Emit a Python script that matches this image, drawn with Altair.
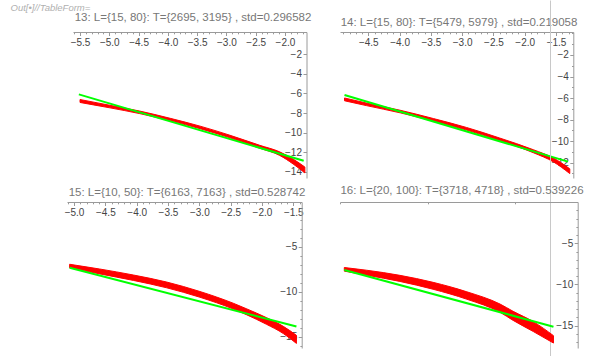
import altair as alt
import pandas as pd

# ---------------- data ----------------
# Panel 13
p13_x = [-5.5, -4.99, -4.48, -3.96, -3.45, -2.94, -2.43, -2.09, -1.86, -1.66]
p13_red_top = [-6.62, -7.21, -7.80, -8.54, -9.34, -10.27, -11.30, -11.97, -12.71, -13.52]
p13_red_bottom = [-6.92, -7.47, -8.06, -8.80, -9.60, -10.53, -11.60, -12.33, -13.21, -14.12]
p13_green_x = [-5.52, -1.68]
p13_green_y = [-6.09, -12.88]

# Panel 14
p14_x = [-4.88, -4.53, -3.99, -3.46, -2.93, -2.40, -1.86, -1.54, -1.28]
p14_red_top = [-5.99, -6.46, -7.13, -7.90, -8.73, -9.71, -10.80, -11.57, -12.57]
p14_red_bottom = [-6.25, -6.70, -7.37, -8.14, -8.97, -9.95, -11.08, -11.93, -13.01]
p14_green_x = [-4.88, -1.31]
p14_green_y = [-5.72, -11.9]

# Panel 15
p15_x = [-5.07, -4.59, -4.05, -3.52, -2.99, -2.46, -2.24, -1.93, -1.66, -1.45]
p15_red_top = [-6.95, -7.48, -8.15, -8.93, -9.98, -11.28, -11.92, -12.88, -13.85, -14.85]
p15_red_bottom = [-7.35, -8.02, -8.75, -9.57, -10.62, -11.92, -12.58, -13.62, -14.65, -15.75]
p15_green_x = [-5.07, -1.45]
p15_green_y = [-7.33, -13.86]

# Panel 16
p16_x = [-4.33, -3.92, -3.31, -2.70, -2.08, -1.47, -1.23, -0.86, -0.49]
p16_red_top = [-7.94, -8.27, -8.89, -9.74, -10.89, -12.38, -13.26, -14.51, -16.21]
p16_red_bottom = [-8.38, -8.87, -9.63, -10.58, -11.79, -13.38, -14.36, -15.71, -17.11]
p16_green_x = [-4.33, -0.49]
p16_green_y = [-8.24, -15.12]

titles = [
    "13: L={15, 80}: T={2695, 3195} , std=0.296582",
    "14: L={15, 80}: T={5479, 5979} , std=0.219058",
    "15: L={10, 50}: T={6163, 7163} , std=0.528742",
    "16: L={20, 100}: T={3718, 4718} , std=0.539226",
]
header_text = "Out[\u2022]//TableForm="
p13_y_labels = [-14, -12, -10, -8, -6, -4, -2]

# ---------------- styling ----------------
FONT = "Liberation Sans"
AXIS_GREY = "#9a9a9a"
LABEL_COLOR = "#444444"
TITLE_COLOR = "#777777"
H = 146

X_HALF = "abs(datum.value*2-round(datum.value*2))<0.001"
X_ONE = "abs(datum.value-round(datum.value))<0.001"
Y_TWO = "abs(datum.value/2-round(datum.value/2))<0.001 && datum.value<-1"
Y_FIVE = "abs(datum.value/5-round(datum.value/5))<0.001 && datum.value<-1"


def make_axis(orient, offset, values, major, fmt, title_kw, plain=False):
    kw = dict(
        orient=orient,
        offset=offset,
        values=values,
        format=fmt,
        tickColor=AXIS_GREY,
        domainColor=AXIS_GREY,
        labelColor=LABEL_COLOR,
        labelFont=FONT,
        labelFontSize=10,
        labelPadding=1.5,
        labelFlush=False,
        labelOverlap=False,
        grid=False,
    )
    if plain:
        kw["tickSize"] = 3.5
    else:
        kw["labelExpr"] = f"({major}) ? datum.label : ''"
        kw["tickSize"] = {"condition": {"test": major, "value": 3.5}, "value": 1.8}
    kw.update(title_kw)
    return alt.Axis(**kw)


def make_panel(xs, top, bottom, gx, gy, title, width, xdom, xrange_, ydom,
               xticks, yticks, xmajor, ymajor, xfmt, tx, ty, extra=None,
               y_title=None, y_plain=False):
    band = pd.DataFrame({"x": xs, "top": top, "bottom": bottom})
    green = pd.DataFrame({"x": gx, "y": gy})
    xscale = alt.Scale(domain=xdom, range=xrange_, nice=False, zero=False)
    yscale = alt.Scale(domain=ydom, nice=False, zero=False)
    x_title_kw = dict(
        title=title, titleX=tx, titleY=ty, titleAlign="center",
        titleBaseline="alphabetic", titleFont=FONT, titleFontSize=11.5,
        titleFontWeight="normal", titleColor=TITLE_COLOR,
    )
    y_title_kw = dict(title=None) if y_title is None else y_title
    xaxis = make_axis("bottom", -H, xticks, xmajor, xfmt, x_title_kw)
    yaxis = make_axis("left", -xrange_[1], yticks, ymajor, "d", y_title_kw,
                      plain=y_plain)
    red = alt.Chart(band).mark_area(
        color="#ff0000", stroke="#ff0000", strokeWidth=1, interpolate="monotone"
    ).encode(
        x=alt.X("x:Q", scale=xscale, axis=xaxis),
        y=alt.Y("top:Q", scale=yscale, axis=yaxis),
        y2="bottom:Q",
    )
    line = alt.Chart(green).mark_line(color="#00ff00", strokeWidth=2).encode(
        x=alt.X("x:Q", scale=xscale, axis=xaxis),
        y=alt.Y("y:Q", scale=yscale, axis=yaxis),
    )
    layers = [red, line]
    if extra is not None:
        layers.append(extra)
    return alt.layer(*layers).properties(width=width, height=H)


# grey cell-bracket line of the notebook
bracket = alt.Chart(pd.DataFrame({"k": [0]})).mark_rule(
    color="#c8c8c8", strokeWidth=1
).encode(x=alt.value(210.5), y=alt.value(-31.5), y2=alt.value(324))

out_label = dict(
    title=header_text, titleX=-291.7, titleY=-192, titleAngle=0, titleAlign="left",
    titleBaseline="alphabetic", titleFont=FONT, titleFontSize=9.5,
    titleFontStyle="italic", titleFontWeight="normal", titleColor="#b0b0b0",
)

p13 = make_panel(
    p13_x, p13_red_top, p13_red_bottom, p13_green_x, p13_green_y, titles[0],
    240, [-5.62, -1.632], [6, 239.5], [-14.64, 0.28],
    [i / 10 for i in range(-56, -16)], p13_y_labels,
    X_HALF, Y_TWO, ".1f", 125.5, -12, y_plain=True,
)
p14 = make_panel(
    p14_x, p14_red_top, p14_red_bottom, p14_green_x, p14_green_y, titles[1],
    238, [-4.952, -1.224], [0, 233.3], [-13.42, 0.135],
    [i / 10 for i in range(-49, -12)], [j / 2 for j in range(-26, 1)],
    X_HALF, Y_TWO, ".1f", 118.5, -6.7, extra=bracket,
)
p15 = make_panel(
    p15_x, p15_red_top, p15_red_bottom, p15_green_x, p15_green_y, titles[2],
    240, [-5.112, -1.366], [0, 234.7], [-16.26, -0.03],
    [i / 10 for i in range(-51, -13)], [float(j) for j in range(-16, 0)],
    X_HALF, Y_FIVE, ".1f", 119.5, -7, y_title=out_label,
)
p16 = make_panel(
    p16_x, p16_red_top, p16_red_bottom, p16_green_x, p16_green_y, titles[3],
    238, [-4.409, -0.045], [0, 237.7], [-17.71, 0.01],
    [i / 5 for i in range(-22, 0)], [float(j) for j in range(-17, 0)],
    X_ONE, Y_FIVE, "d", 121.5, -8.7,
)

chart = alt.concat(
    p13, p14, p15, p16, columns=2, spacing={"row": 24, "column": 33}, bounds="flush"
).properties(
    padding={"left": 10, "top": 0, "right": 0, "bottom": 0},
).configure_view(strokeWidth=0)

chart.save("out.html", embed_options={"renderer": "svg", "actions": False})
